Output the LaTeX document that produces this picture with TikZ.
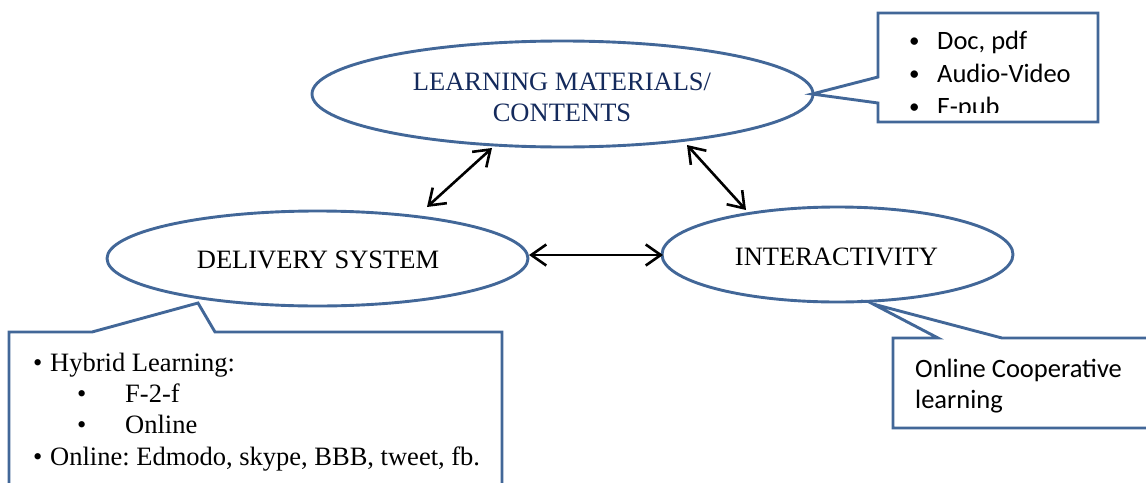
\documentclass[tikz,border=0pt]{standalone}
\usepackage{fontspec}
\setmainfont{Liberation Serif}
\newfontfamily\calfont{Carlito}
\usetikzlibrary{shapes.geometric,arrows.meta}
\definecolor{ellblue}{RGB}{66,103,152}
\definecolor{navytext}{RGB}{20,42,92}
\frenchspacing
\tikzset{
  ell/.style={ellipse, draw=ellblue, line width=2.9pt, inner sep=0pt, fill=white},
  serift/.style={font=\fontsize{26.5}{31.8}\selectfont, inner sep=0pt},
  calt/.style={font=\calfont\fontsize{26.5}{32}\selectfont, inner sep=0pt, anchor=base west},
  calb/.style={font=\calfont\fontsize{21}{32}\selectfont, inner sep=0pt, anchor=base west},
  call/.style={draw=ellblue, line width=2.9pt, fill=white, line join=miter},
  dbl/.style={{Straight Barb[length=15pt,width=21pt,line width=2.6pt]}-{Straight Barb[length=15pt,width=21pt,line width=2.6pt]}, line width=2.6pt, black},
}
\begin{document}
\begin{tikzpicture}[x=1pt,y=-1pt]
\useasboundingbox (0,0) rectangle (1146,482);
\clip (0,0) rectangle (1146,482);
% ellipses
\node[ell, minimum width=501pt, minimum height=106pt] (lm) at (562.5,94) {};
\node[ell, minimum width=421pt, minimum height=95pt] (ds) at (317.5,258.5) {};
\node[ell, minimum width=351pt, minimum height=95pt] (ia) at (837.5,254.5) {};
\node[serift, text=navytext, anchor=base] (lmt1) at (562,90) {LEARNING MATERIALS/};
\node[serift, text=navytext, anchor=base] (lmt2) at (562,121) {CONTENTS};
\node[serift, anchor=base] (dst) at (318,268) {DELIVERY SYSTEM};
\node[serift, anchor=base] (iat) at (836.5,265) {INTERACTIVITY};
% arrows
\coordinate (a1s) at (427,207);
\coordinate (a1e) at (492,148);
\coordinate (a2s) at (687,145);
\coordinate (a2e) at (746,210);
\coordinate (a3s) at (529,255);
\coordinate (a3e) at (663,255);
\draw[dbl] (a1s) -- (a1e);
\draw[dbl] (a2s) -- (a2e);
\draw[dbl] (a3s) -- (a3e);
% top-right callout
\draw[call] (878,13) -- (1098,13) -- (1098,122) -- (878,122) -- (878,103) -- (812,94) -- (878,77) -- cycle;
\begin{scope}
\clip (880,15) rectangle (1096,112);
\node[calb] (b1) at (909,47) {•};
\node[calt] (t1) at (937,49) {Doc, pdf};
\node[calb] (b2) at (909,80) {•};
\node[calt] (t2) at (937,82) {Audio-Video};
\node[calb] (b3) at (909,113) {•};
\node[calt] (t3) at (937,115) {E-pub};
\end{scope}
% bottom-left callout
\draw[call] (9,500) -- (9,332) -- (92,332) -- (198,303) -- (215,332) -- (502,332) -- (502,500);
\node[serift, anchor=base west] (h0) at (33,371) {•};
\node[serift, anchor=base west] (h1) at (50,371) {Hybrid Learning:};
\node[serift, anchor=base west] (h2b) at (77,402) {•};
\node[serift, anchor=base west] (h2) at (125,402) {F-2-f};
\node[serift, anchor=base west] (h3b) at (77,433) {•};
\node[serift, anchor=base west] (h3) at (125,433) {Online};
\node[serift, anchor=base west] (h4b) at (33,465) {•};
\node[serift, anchor=base west] (h4) at (50,465) {Online: Edmodo, skype, BBB, tweet, fb.};
% right callout
\draw[call] (1160,338) -- (1002,338) -- (873,304) -- (938,338) -- (893,338) -- (893,428) -- (1160,428);
\node[calt] (oc1) at (915,377) {Online Cooperative};
\node[calt] (oc2) at (915,408) {learning};
\end{tikzpicture}
\end{document}
